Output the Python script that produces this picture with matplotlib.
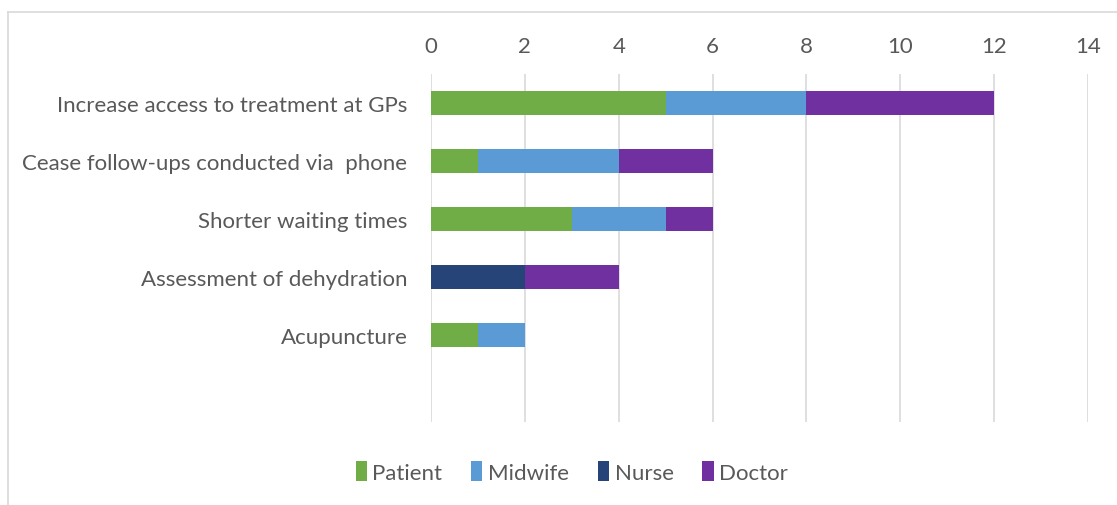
import matplotlib.pyplot as plt
from matplotlib.lines import Line2D
from matplotlib.patches import Patch

categories = ["Increase access to treatment at GPs",
              "Cease follow-ups conducted via  phone",
              "Shorter waiting times",
              "Assessment of dehydration",
              "Acupuncture",
              ""]
patient = [5, 1, 3, 0, 1, 0]
midwife = [3, 3, 2, 0, 1, 0]
nurse = [0, 0, 0, 2, 0, 0]
doctor = [4, 2, 1, 2, 0, 0]

series = [("Patient", patient, "#70AD47"),
          ("Midwife", midwife, "#5B9BD5"),
          ("Nurse", nurse, "#264478"),
          ("Doctor", doctor, "#7030A0")]

text_col = "#595959"
plt.rcParams['font.family'] = ['Lato', 'DejaVu Sans']

fig = plt.figure(figsize=(11.17, 5.06), dpi=100)
ax = fig.add_axes([431 / 1117, 1 - 423 / 506, (1088 - 431) / 1117, (423 - 75) / 506])

ypos = list(range(len(categories)))
left = [0] * len(categories)
handles = []
for name, vals, col in series:
    ax.barh(ypos, vals, left=left, height=0.4, color=col, zorder=3)
    left = [a + b for a, b in zip(left, vals)]
    handles.append(Patch(facecolor=col, label=name))

ax.set_ylim(len(categories) - 0.5, -0.5)
ax.set_xlim(0, 14)
ax.set_xticks(range(0, 15, 2))
ax.xaxis.tick_top()
ax.set_yticks(ypos)
ax.set_yticklabels(categories)
ax.tick_params(axis='both', length=0, labelsize=16, colors=text_col)
ax.tick_params(axis='x', pad=13)
ax.tick_params(axis='y', pad=17)
ax.grid(axis='x', color="#D9D9D9", linewidth=1.2, zorder=0)
for s in ax.spines.values():
    s.set_visible(False)

fig.legend(handles=handles, loc='center', bbox_to_anchor=(0.512, 1 - 473 / 506),
           ncol=4, frameon=False, fontsize=16, handlelength=0.5, handleheight=0.95,
           handletextpad=0.25, columnspacing=1.3, labelcolor=text_col)

# outer chart border (top and left edges visible)
fig.add_artist(Line2D([8 / 1117, 1], [1 - 13 / 506, 1 - 13 / 506], color="#D9D9D9", lw=1.2))
fig.add_artist(Line2D([8 / 1117, 8 / 1117], [0, 1 - 13 / 506], color="#D9D9D9", lw=1.2))

fig.savefig("out.png", dpi=100)
